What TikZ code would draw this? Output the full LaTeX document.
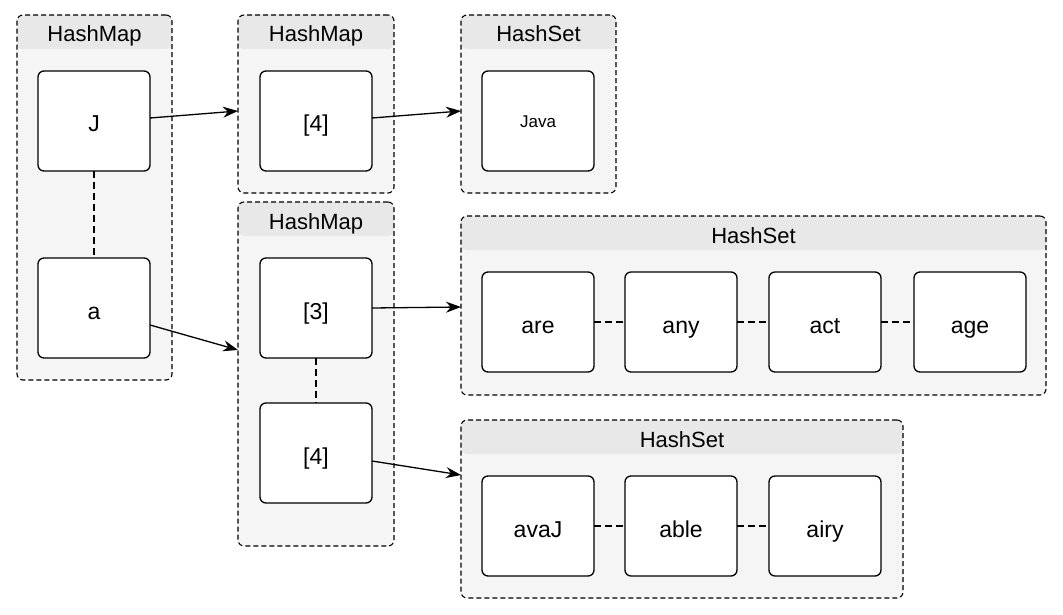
\documentclass[tikz,border=0pt]{standalone}
\usepackage{fontspec}
\setmainfont{Liberation Sans}
\usetikzlibrary{arrows.meta,calc}
\definecolor{hdrgray}{HTML}{E8E8E8}
\definecolor{bodygray}{HTML}{F5F5F5}
\tikzset{
  cont/.style={draw=black, line width=1.1pt, dash pattern=on 5pt off 3pt,
    rounded corners=6pt, fill=bodygray, anchor=north west, inner sep=0pt, outer sep=0pt,
    path picture={\fill[hdrgray] (path picture bounding box.north west) rectangle
      ([yshift=-34pt]path picture bounding box.north east);}},
  ctitle/.style={font=\fontsize{22}{25}\selectfont, anchor=center, inner sep=0pt,
    text height=20pt, text depth=0pt},
  item/.style={draw=black, line width=1.3pt, rounded corners=6pt, fill=white,
    minimum width=112pt, minimum height=100pt, inner sep=0pt, outer sep=0pt,
    font=\fontsize{23}{26}\selectfont, text height=22pt, text depth=0pt},
  link/.style={line width=1.1pt, dash pattern=on 7pt off 4pt},
  arr/.style={line width=1.3pt, -{Stealth[length=15pt,width=11pt]}},
}
\begin{document}
\begin{tikzpicture}[x=1pt,y=-1pt]
\useasboundingbox (0,0) rectangle (1063,615);
% containers
\node[cont, minimum width=155pt, minimum height=365pt] (c1) at (17,15) {};
\node[cont, minimum width=156pt, minimum height=178pt] (c2) at (238,15) {};
\node[cont, minimum width=155pt, minimum height=178pt] (c3) at (461,15) {};
\node[cont, minimum width=156pt, minimum height=344pt] (c4) at (238,202) {};
\node[cont, minimum width=585pt, minimum height=179pt] (c5) at (461,216) {};
\node[cont, minimum width=442pt, minimum height=178pt] (c6) at (461,420) {};
% titles
\node[ctitle] (t1) at ($(c1.north)+(0,17)$) {HashMap};
\node[ctitle] (t2) at ($(c2.north)+(0,17)$) {HashMap};
\node[ctitle] (t3) at ($(c3.north)+(0,17)$) {HashSet};
\node[ctitle] (t4) at ($(c4.north)+(0,17)$) {HashMap};
\node[ctitle] (t5) at ($(c5.north)+(0,17)$) {HashSet};
\node[ctitle] (t6) at ($(c6.north)+(0,17)$) {HashSet};
% items
\node[item] (J) at (94,121) {J};
\node[item] (a) at (94,308) {a};
\node[item] (m4) at (316,121) {[4]};
\node[item, font=\fontsize{17}{20}\selectfont, text height=14pt] (java) at (538,121) {Java};
\node[item] (m3) at (316,308) {[3]};
\node[item] (n4) at (316,453) {[4]};
\node[item] (are) at (538,322) {are};
\node[item] (any) at (681,322) {any};
\node[item] (act) at (825,322) {act};
\node[item] (age) at (970,322) {age};
\node[item] (avaj) at (538,526) {avaJ};
\node[item] (able) at (681,526) {able};
\node[item] (airy) at (825,526) {airy};
% dashed links
\draw[link] (J) -- (a);
\draw[link] (m3) -- (n4);
\draw[link] (are) -- (any);
\draw[link] (any) -- (act);
\draw[link] (act) -- (age);
\draw[link] (avaj) -- (able);
\draw[link] (able) -- (airy);
% arrows
\coordinate (p1) at (238,111);
\coordinate (p2) at (461,111);
\coordinate (p3) at (238,350);
\coordinate (p4) at (461,307);
\coordinate (p5) at (461,475);
\draw[arr] ($(J.east)+(0,-3)$) -- (p1);
\draw[arr] ($(m4.east)+(0,-3)$) -- (p2);
\draw[arr] ($(a.east)+(0,17)$) -- (p3);
\draw[arr] (m3.east) -- (p4);
\draw[arr] ($(n4.east)+(0,8)$) -- (p5);
\end{tikzpicture}
\end{document}
